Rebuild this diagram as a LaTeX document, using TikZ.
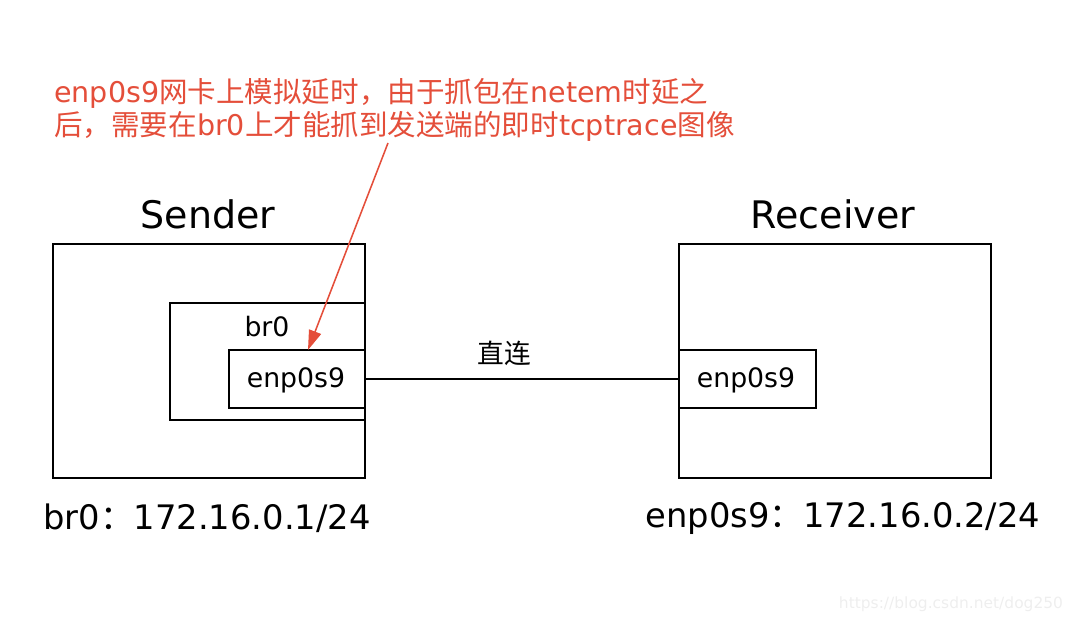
\documentclass[tikz,border=0pt]{standalone}
\usepackage{fontspec}
\setmainfont{DejaVu Sans}
\newfontfamily\cjk{Noto Sans CJK SC}
\usetikzlibrary{arrows.meta}
\definecolor{annot}{RGB}{228,78,58}
\definecolor{wm}{RGB}{238,238,238}
\tikzset{
  box/.style={draw=black, line width=1.4pt, inner sep=0pt, anchor=north west, fill=none},
  title/.style={font=\fontsize{27}{32}\selectfont},
  lbl/.style={font=\fontsize{19}{22}\selectfont},
  addr/.style={font=\fontsize{24}{28}\selectfont},
  note/.style={font=\fontsize{20.3}{23.5}\selectfont, text=annot, align=left, anchor=north west, inner sep=0pt},
  redarrow/.style={draw=annot, line width=1.1pt, -{Triangle[length=14pt,width=9pt]}},
}
\begin{document}
\begin{tikzpicture}[x=0.025cm,y=-0.025cm]
\useasboundingbox (0,0) rectangle (1080,622);
% sender
\node[box, minimum width=7.8cm, minimum height=5.85cm] (sender) at (52,243) {};
\node[box, minimum width=4.875cm, minimum height=2.925cm] (br) at (169,302) {};
\node[box, minimum width=3.4cm, minimum height=1.45cm] (senp) at (228,349) {};
\node[lbl] (brlbl) at (267,327) {br0};
\node[lbl] (senplbl) at (296,380) {enp0s9};
\node[title] (sendert) at (208,214) {Sender};
\node[addr] (saddr) at (207,518) {br0{\cjk ：}172.16.0.1/24};
% receiver
\node[box, minimum width=7.8cm, minimum height=5.85cm] (receiver) at (678,243) {};
\node[box, minimum width=3.425cm, minimum height=1.45cm] (renp) at (678,349) {};
\node[lbl] (renplbl) at (746,380) {enp0s9};
\node[title] (receivert) at (833,214) {Receiver};
\node[addr] (raddr) at (843,518) {enp0s9{\cjk ：}172.16.0.2/24};
% link
\draw[line width=1.1pt] (senp.east) -- (renp.west);
\node[lbl] (link) at (504,353) {\cjk 直连};
% annotation
\node[note] (note) at (54,78) {enp0s9{\cjk 网卡上模拟延时，由于抓包在}netem{\cjk 时延之}\\{\cjk 后，需要在}br0{\cjk 上才能抓到发送端的即时}tcptrace{\cjk 图像}};
\coordinate (astart) at (388,143);
\coordinate (atip) at (308,350);
\draw[redarrow] (astart) -- (atip);
% watermark
\node[font=\fontsize{11}{13}\selectfont, text=wm, anchor=east] (wmark) at (1068,604) {https://blog.csdn.net/dog250};
\end{tikzpicture}
\end{document}
